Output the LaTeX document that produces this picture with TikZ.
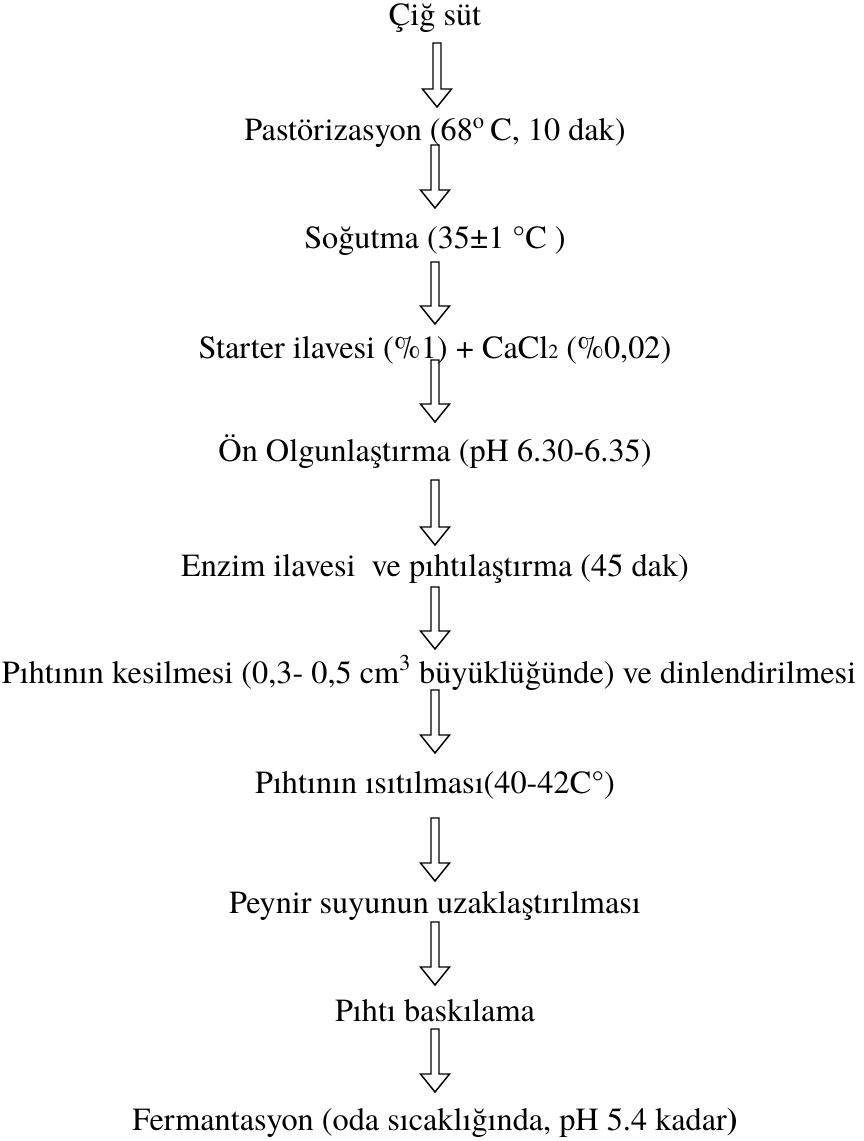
\documentclass[tikz,border=0pt]{standalone}
\usepackage{fontspec}
\IfFontExistsTF{TeX Gyre Termes}
  {\setmainfont{TeX Gyre Termes}}
  {\setmainfont{Liberation Serif}}
\usetikzlibrary{calc, positioning}

\begin{document}
\begin{tikzpicture}[
    x=0.75pt, y=-0.75pt,
    every node/.style={inner sep=0pt, anchor=base, font=\rmfamily\fontsize{24.2}{29}\selectfont},
    hollow/.style={
        draw, line width=1.1pt, line join=miter,
        to path={
            let \p1=(\tikztostart), \p2=(\tikztotarget) in
            (\x1-3pt,\y1) -- (\x1-3pt,\y2+13.5pt) -- (\x1-10.9pt,\y2+13.5pt) -- (\x1,\y2)
            -- (\x1+10.9pt,\y2+13.5pt) -- (\x1+3pt,\y2+13.5pt) -- (\x1+3pt,\y1) -- cycle
        }
    },
]
  \useasboundingbox (0,0) rectangle (863,1141);

  % START OF TIKZ NODES

  \node (cig)   at (435,26)   {Çiğ süt};
  \node (past)  at (435,141)  {Pastörizasyon (68\textsuperscript{o}\,C, 10 dak)};
  \node (cool)  at (435,248)  {Soğutma (35±1 °C )};
  \node (start) at (435,358)  {Starter ilavesi (\%1) + CaCl{\fontsize{15}{18}\selectfont 2} (\%0,02)};
  \node (ripen) at (435,461)  {Ön Olgunlaştırma (pH 6.30-6.35)};
  \node (enzim) at (435,576)  {Enzim ilavesi\ \ ve pıhtılaştırma (45 dak)};
  \node (cut)   at (429,683)  {Pıhtının kesilmesi (0,3- 0,5 cm\textsuperscript{3} büyüklüğünde) ve dinlendirilmesi};
  \node (heat)  at (435,793)  {Pıhtının ısıtılması(40-42C°)};
  \node (whey)  at (435,913)  {Peynir suyunun uzaklaştırılması};
  \node (press) at (435,1021) {Pıhtı baskılama};
  \node (ferm)  at (435,1130) {Fermantasyon (oda sıcaklığında, pH 5.4 kadar\textbf{)}};

  % ARROWS BETWEEN THE STEPS

  \draw[hollow] ([shift={(2,17)}]cig.base)   to ([shift={(2,-34)}]past.base);
  \draw[hollow] ([shift={(0,4)}]past.base)   to ([shift={(0,-40)}]cool.base);
  \draw[hollow] ([shift={(0,14)}]cool.base)  to ([shift={(0,-34)}]start.base);
  \draw[hollow] ([shift={(0,2)}]start.base)  to ([shift={(0,-39)}]ripen.base);
  \draw[hollow] ([shift={(0,19)}]ripen.base) to ([shift={(0,-31)}]enzim.base);
  \draw[hollow] ([shift={(0,11)}]enzim.base) to ([shift={(0,-34)}]cut.base);
  \draw[hollow] ([shift={(6,7)}]cut.base)    to ([shift={(6,-40)}]heat.base);
  \draw[hollow] ([shift={(0,25)}]heat.base)  to ([shift={(0,-32)}]whey.base);
  \draw[hollow] ([shift={(0,9)}]whey.base)   to ([shift={(0,-36)}]press.base);
  \draw[hollow] ([shift={(0,8)}]press.base)  to ([shift={(0,-38)}]ferm.base);

  % End of the flow chart

\end{tikzpicture}
\end{document}
